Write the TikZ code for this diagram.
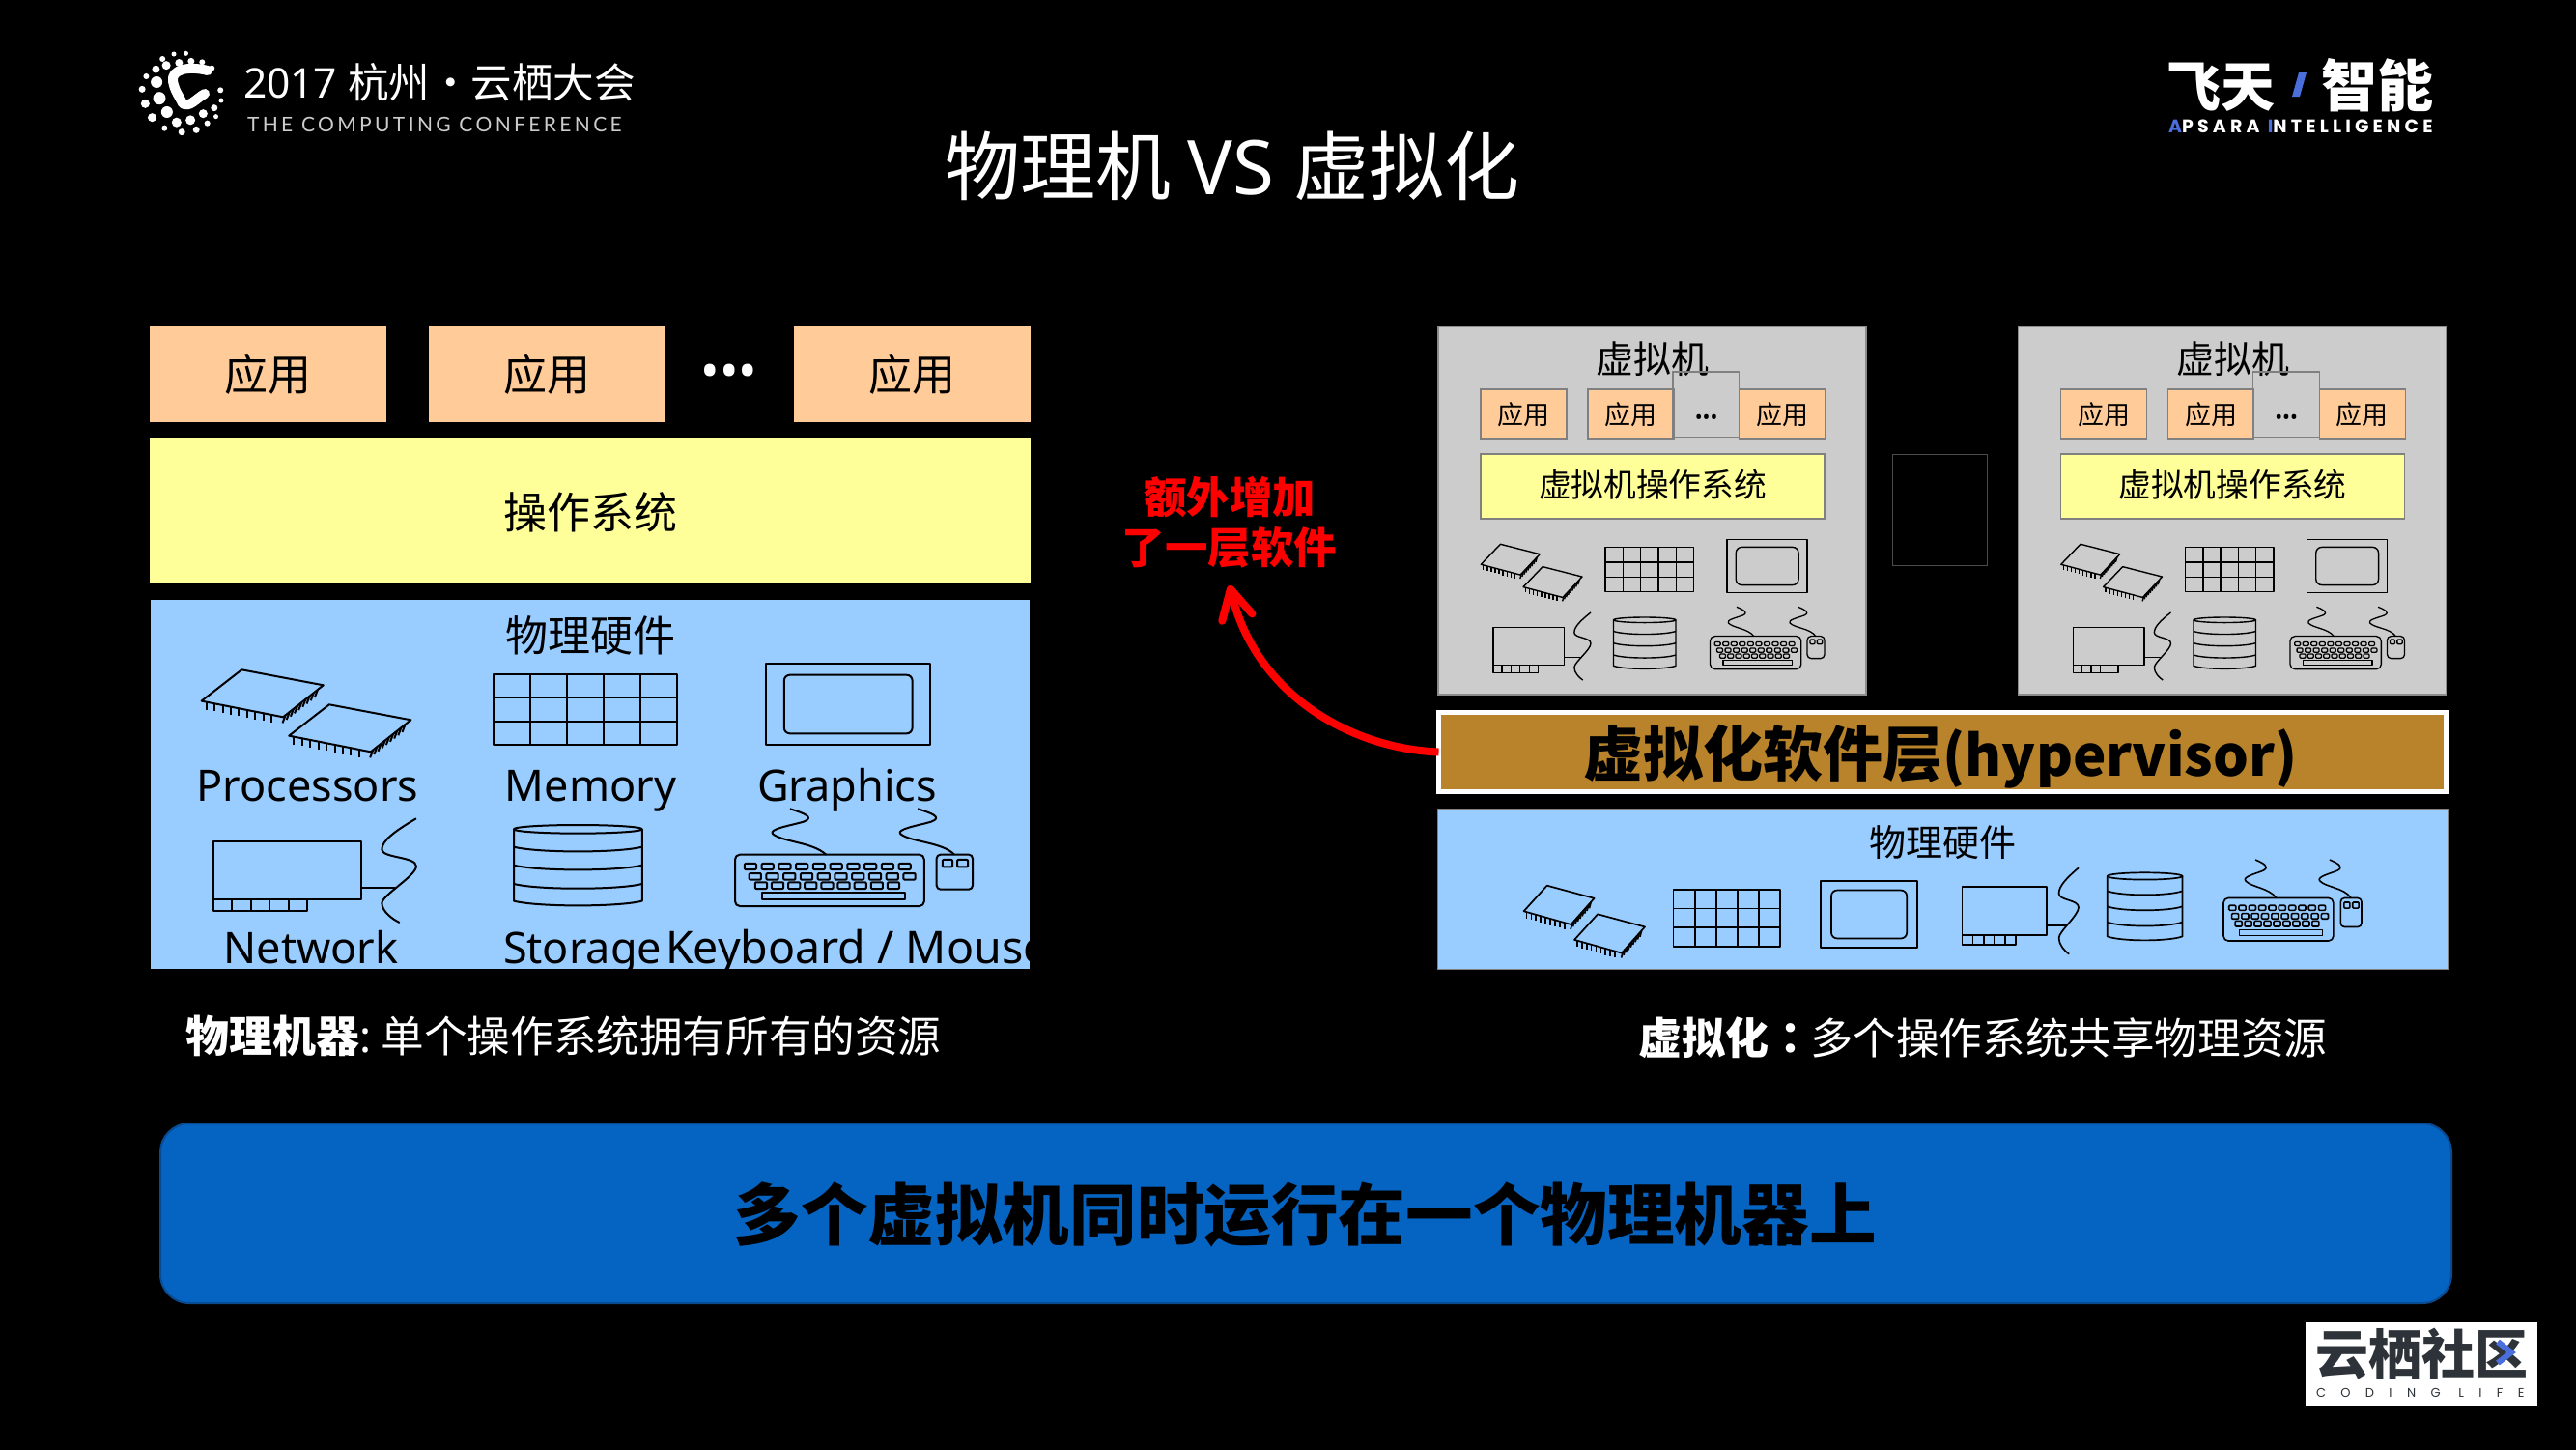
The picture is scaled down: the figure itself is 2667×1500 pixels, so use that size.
\documentclass[tikz,border=0pt]{standalone}
\usepackage{fontspec}
\usetikzlibrary{arrows.meta}
\setmainfont{Noto Sans CJK SC}
\newfontfamily\lat{Noto Sans}
\newfontfamily\cjktc{Noto Sans CJK TC}
\newfontfamily\logolat[LetterSpace=22]{Poppins}
\newfontfamily\conf[LetterSpace=16]{Lato}
\newfontfamily\coding[LetterSpace=118]{Poppins}
\definecolor{appc}{HTML}{FFCC99}
\definecolor{osc}{HTML}{FFFF99}
\definecolor{hwc}{HTML}{99CCFF}
\definecolor{vmc}{HTML}{CCCCCC}
\definecolor{brownc}{HTML}{B8832A}
\definecolor{barc}{HTML}{0563C1}
\definecolor{bard}{HTML}{0A4A90}
\definecolor{logob}{HTML}{4A6FDC}
\definecolor{logod}{HTML}{2D3338}
\newcommand\fs[1]{\fontsize{#1}{#1}\selectfont}
\tikzset{
 x=1pt,y=-1pt,
 flat/.style={draw=none,inner sep=0pt,outer sep=0pt},
 txt/.style={inner sep=0pt,outer sep=0pt,text=black,align=center},
 appbig/.style={flat,fill=appc,anchor=north west,minimum width=245pt,minimum height=100pt,font=\fs{45}},
 appsmall/.style={draw=black!50,line width=1.2pt,fill=appc,inner sep=0pt,outer sep=0pt,minimum width=89pt,minimum height=51pt,font=\fs{27},anchor=north west},
 vmbox/.style={draw=black!45,line width=1.2pt,fill=vmc,inner sep=0pt,outer sep=0pt,anchor=north west,minimum width=443pt,minimum height=381pt},
 osmall/.style={draw=black!50,line width=1.2pt,fill=osc,inner sep=0pt,outer sep=0pt,anchor=north west,minimum width=356pt,minimum height=67pt,font=\fs{33.7}},
 icon/.style={draw=black,line width=#1,line join=round},
 lab/.style={txt,anchor=base,font=\lat\fs{45}},
}
% ---- icons, in their own local coordinates
\newcommand\chipone[2]{%
 \draw[shift={(#1,#2)}] (180,250)--(318,298)--(250,397)--(112,347)--cycle;
 \foreach \t in {.06,.16,...,.96}{\draw[shift={(#1,#2)}] (112+138*\t,347+50*\t)--++(0,24);}
 \foreach \t in {.06,.16,...,.96}{\draw[shift={(#1,#2)}] (250+68*\t,397-99*\t)--++(-5,24);}
}
\newcommand\iconchips[5]{\begin{scope}[shift={(#1,#2)},xscale=(#3-#1)/354,yscale=(#4-#2)/270,shift={(-112,-250)},icon=#5]
 \chipone{0}{0}\chipone{148}{108}\end{scope}}
\newcommand\iconmem[5]{\begin{scope}[shift={(#1,#2)},xscale=(#3-#1)/311,yscale=(#4-#2)/217,icon=#5]
 \draw (0,0) rectangle (311,217);
 \foreach \k in {1,2,3,4}{\draw (62.2*\k,0)--(62.2*\k,217);}
 \foreach \k in {1,2}{\draw (0,72.3*\k)--(311,72.3*\k);}\end{scope}}
\newcommand\icongfx[5]{\begin{scope}[shift={(#1,#2)},xscale=(#3-#1)/278,yscale=(#4-#2)/254,icon=#5]
 \draw (0,0) rectangle (278,254);
 \draw[rounded corners=6pt] (31,36) rectangle (248,218);\end{scope}}
\newcommand\iconnet[5]{\begin{scope}[shift={(#1,#2)},xscale=(#3-#1)/342,yscale=(#4-#2)/323,shift={(-133,-712)},icon=#5]
 \draw (133,783) rectangle (382,963);
 \draw (133,963) rectangle (290,1000);
 \foreach \k in {164,196,227,259}{\draw (\k,963)--(\k,1000);}
 \draw (382,927)--(440,927);
 \draw (475,712) .. controls (440,750) and (417,780) .. (417,808) .. controls (417,835) and (475,830) .. (475,860) .. controls (475,890) and (417,950) .. (417,975) .. controls (417,1000) and (435,1025) .. (447,1035);
 \end{scope}}
\newcommand\iconstor[5]{\begin{scope}[shift={(#1,#2)},xscale=(#3-#1)/217,yscale=(#4-#2)/250,shift={(-640,-732)},icon=#5]
 \draw (748.5,745) ellipse [x radius=108.5,y radius=13];
 \draw (640,745)--(640,968) .. controls (680,987) and (817,987) .. (857,968)--(857,745);
 \foreach \v in {800,857,915}{\draw (640,\v) .. controls (680,\v+19) and (817,\v+19) .. (857,\v);}
 \end{scope}}
\newcommand\iconkbd[5]{\begin{scope}[shift={(#1,#2)},xscale=(#3-#1)/402,yscale=(#4-#2)/302,shift={(-1014,-682)},icon=#5]
 \draw[rounded corners=5pt] (1014,824) rectangle (1334,984);
 \foreach \k in {0,...,9}{\draw[rounded corners=1pt] (1030+29*\k,852) rectangle ++(20,18);}
 \foreach \k in {0,...,9}{\draw[rounded corners=1pt] (1038+29*\k,882) rectangle ++(20,20);}
 \foreach \k in {0,...,8}{\draw[rounded corners=1pt] (1048+28*\k,910) rectangle ++(20,20);}
 \draw (1060,942) rectangle (1302,964);
 \draw[rounded corners=4pt] (1355,824) rectangle (1416,932);
 \draw[rounded corners=1pt] (1365,840) rectangle (1382,862);
 \draw[rounded corners=1pt] (1390,840) rectangle (1408,862);
 \draw (1107,682) .. controls (1130,695) and (1150,708) .. (1130,722) .. controls (1105,735) and (1070,745) .. (1078,760) .. controls (1095,785) and (1145,785) .. (1168,824);
 \draw (1323,682) .. controls (1346,695) and (1366,708) .. (1346,722) .. controls (1321,735) and (1286,745) .. (1294,760) .. controls (1311,785) and (1365,785) .. (1385,824);
 \end{scope}}
\newcommand\vm[2]{%
 \begin{scope}[xshift=#1pt]
 \node[vmbox] (#2box) at (1489,338) {};
 \node[txt,font=\fs{39}] (#2title) at (1711,372) {虚拟机};
 \node[appsmall] (#2a) at (1533,403) {\raisebox{-1pt}[\height][\depth]{应用}};
 \node[appsmall] (#2b) at (1644,403) {\raisebox{-1pt}[\height][\depth]{应用}};
 \node[appsmall] (#2c) at (1800.6,403) {\raisebox{-1pt}[\height][\depth]{应用}};
 \node[draw=black!50,line width=1.2pt,inner sep=0pt,outer sep=0pt,minimum width=68.6pt,minimum height=67.7pt,anchor=north west] (#2dotbox) at (1732,385) {};
 \node[txt,font=\lat\fs{21}] (#2dots) at (1766.6,434) {•••};
 \node[osmall] (#2os) at (1533,470) {\raisebox{1.5pt}[\height][\depth]{虚拟机操作系统}};
 \iconchips{1533.3}{563.3}{1638}{621.7}{1.4pt}
 \iconmem{1662}{566.7}{1753.5}{612.7}{1.4pt}
 \icongfx{1788}{558.7}{1871}{613.3}{1.4pt}
 \iconnet{1546}{634}{1647}{704}{1.4pt}
 \iconstor{1670.5}{639}{1735}{692.3}{1.4pt}
 \iconkbd{1770.5}{628.3}{1889}{692.7}{1.3pt}
 \end{scope}}
\begin{document}
\begin{tikzpicture}
\useasboundingbox (0,0) rectangle (2667,1500);
\fill[black] (-5,-5) rectangle (2672,1505);
% logo left
\foreach \X/\Y/\R in {140/78/2.5,175/76/2.5,107/93/3,190/100/3.5,155/105/4,222/103/3,118/113/4.5,250/122/3,88/125/4,60/147/3,90/165/6,48/187/3.5,98/215/6.5,57/232/4.5,120/258/6,77/275/4.5,148/290/5,188/283/5,225/263/4.5,257/245/3.5,262/272/2.5,237/293/3,205/313/3.5,163/320/3.5,113/308/3,275/190/3,277/222/2.5}{
  \fill[white] (130+\X/2.8,30+\Y/3) circle (\R);}
\draw[white,line width=10pt,line cap=round,line join=round] (215,73) .. controls (195,68) and (177,72) .. (179,84) .. controls (181,95) and (186,100) .. (189,107) .. controls (196,112) and (203,102) .. (212,97);
\node[txt,text=white,anchor=base west,font=\fs{42.5}] (conf1) at (252,101) {\lat 2017 \normalfont 杭州·云栖大会};
\node[txt,text=white!80!black,anchor=base west,font=\conf\fs{21}] (conf2) at (256,136) {THE COMPUTING CONFERENCE};
% logo right
\node[txt,text=white,anchor=base west,font=\bfseries\fs{56}] (ft) at (2243,110) {飞天};
\fill[logob] (2380,75)--(2388,75)--(2381,100)--(2373,100)--cycle;
\node[txt,text=white,anchor=base west,font=\bfseries\fs{58}] (zn) at (2403,110) {智能};
\node[txt,text=white,anchor=base west,font=\logolat\bfseries\fs{19}] (apsara) at (2245,137) {\textcolor{logob}{A}PSARA \textcolor{logob}{I}NTELLIGENCE};
% title
\node[txt,text=white,font=\fs{78}] (title) at (1276,172) {物理机 \lat VS \normalfont 虚拟化};
% left stack
\node[appbig] (a1) at (155,337) {应用};
\node[appbig] (a2) at (444,337) {应用};
\node[appbig] (a3) at (822,337) {应用};
\node[txt,text=white,font=\lat\fs{52}] (adots) at (755,390) {•••};
\node[flat,fill=osc,anchor=north west,minimum width=912pt,minimum height=151pt,font=\fs{45}] (os) at (155,453) {\raisebox{-2pt}[\height][\depth]{操作系统}};
\node[flat,fill=hwc,anchor=north west,minimum width=910pt,minimum height=382pt] (hw) at (156,621) {};
\node[txt,font=\fs{44}] (hwt) at (611,658) {物理硬件};
\iconchips{208.6}{693.3}{425.4}{783.3}{2pt}
\iconmem{510.5}{698.3}{701}{770.7}{2pt}
\icongfx{792.8}{686.7}{963}{771.3}{2pt}
\iconnet{221.4}{847.3}{430.9}{955}{2pt}
\iconstor{532}{854}{664.8}{937.3}{2pt}
\iconkbd{761}{837.3}{1007}{938}{2pt}
\begin{scope}
\clip (156,621) rectangle (1066,1003);
\node[lab] (lp) at (318.5,829.5) {Processors};
\node[lab] (lm) at (611.5,829.5) {Memory};
\node[lab] (lg) at (877,829.5) {Graphics};
\node[lab] (ln) at (322,997.5) {Network};
\node[lab,anchor=base west] (ls) at (521,997.5) {Storage};
\node[lab,anchor=base west,font=\lat\fs{46.5}] (lk) at (689,997.5) {Keyboard / Mouse};
\end{scope}
% right
\vm{0}{vma}
\vm{600.5}{vmb}
\node[draw=black!70!white,line width=1.5pt,fill=black,minimum width=98pt,minimum height=114.6pt,inner sep=0pt,outer sep=0pt,anchor=north west] (blank) at (1959.5,470.7) {};
\node[draw=white,line width=5pt,fill=brownc,anchor=north west,minimum width=1043pt,minimum height=82pt,inner sep=0pt,outer sep=0pt] (hyper) at (1489.5,737.5) {};
\node[txt,font=\bfseries\fs{62}] (hypert) at (2009,783) {虚拟化软件层{\fs{58}(hypervisor)}};
\node[flat,fill=hwc,draw=black!50,line width=1pt,anchor=north west,minimum width=1046pt,minimum height=166pt] (hw2) at (1488,837) {};
\node[txt,font=\fs{38}] (hw2t) at (2011,872) {物理硬件};
\iconchips{1577.6}{916.7}{1703}{990.7}{1.7pt}
\iconmem{1732.6}{920.7}{1843}{980}{1.7pt}
\icongfx{1884.8}{911.7}{1985}{981.3}{1.7pt}
\iconnet{2031.5}{898.3}{2152}{987.7}{1.7pt}
\iconstor{2181.7}{903.3}{2259.5}{973.3}{1.7pt}
\iconkbd{2302}{890}{2445}{974}{1.6pt}
% red label and arrow
\node[txt,text=red,font=\bfseries\fontsize{44.5}{52}\selectfont,minimum height=130pt] (extra) at (1273,541) {额外增加\\了一层软件};
\draw[red,line width=8pt,-{Straight Barb[length=30pt,width=32pt,round]}] (hyper.west) .. controls (1400,775) and (1300,720) .. (extra.south);
% captions
\node[txt,text=white,anchor=base west,font=\fs{45}] (cap1) at (192,1089.5) {\textbf{物理机器}\lat: \normalfont\hspace{-5pt}\fs{44.6}单个操作系统拥有所有的资源};
\node[txt,text=white,anchor=base west,font=\fs{45}] (cap2) at (1696,1091.5) {\textbf{虚拟化{\cjktc ：}}\hspace{-2pt}\fs{44.6}多个操作系统共享物理资源};
% bar
\node[draw=bard,line width=2pt,fill=barc,rounded corners=30pt,anchor=north west,minimum width=2372pt,minimum height=186pt,inner sep=0pt,outer sep=0pt] (bar) at (166,1163) {};
\node[txt,font=\bfseries\fs{69.6}] (bart) at (1351,1257) {多个虚拟机同时运行在一个物理机器上};
% community logo
\node[flat,fill=white,anchor=north west,minimum width=240pt,minimum height=86pt] (cl) at (2387,1369) {};
\node[txt,text=logod,anchor=base west,font=\bfseries\fs{55}] (clt) at (2397,1422) {云栖社区};
\draw[logob,line width=6pt] (2586,1389)--(2600,1400)--(2586,1411);
\node[txt,text=logod,anchor=base west,font=\coding\fs{13}] (clc) at (2398,1446) {CODING LIFE};
\end{tikzpicture}
\end{document}
